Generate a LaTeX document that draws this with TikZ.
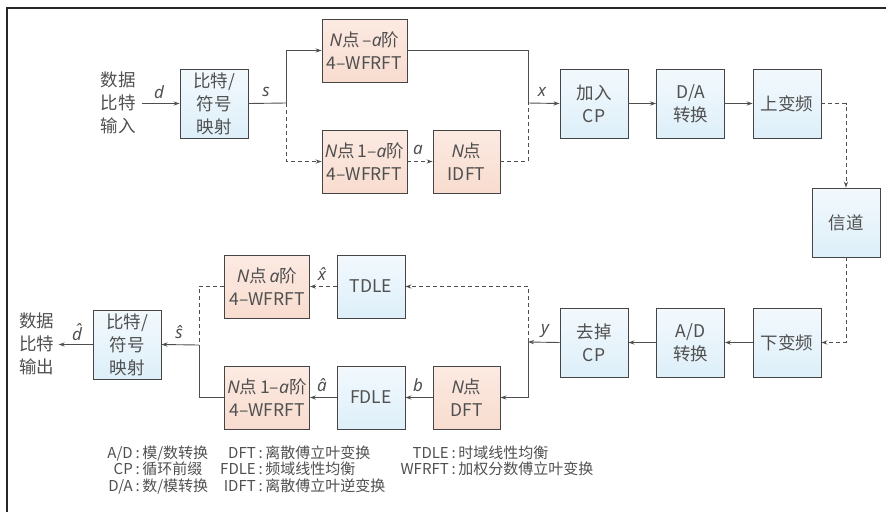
\documentclass[tikz,border=0pt]{standalone}
\usepackage{fontspec}
\setmainfont{Noto Sans CJK SC}
\newfontfamily\itf{Noto Sans}
\usetikzlibrary{arrows.meta}
\newcommand\myit[1]{{\itf\itshape #1}}
\definecolor{txt}{HTML}{505050}
\definecolor{ln}{HTML}{4F4F4F}
\definecolor{bd}{HTML}{454545}
\definecolor{btop}{HTML}{F3F9FD}
\definecolor{bbot}{HTML}{DDEFF9}
\definecolor{ptop}{HTML}{FCEAE2}
\definecolor{pbot}{HTML}{F8DCCF}
\tikzset{
  blk/.style={draw=bd, line width=0.9pt, align=center, inner sep=0pt, text=txt,
    font=\fontsize{17.5}{23}\selectfont},
  bluebox/.style={blk, top color=btop, bottom color=bbot, minimum width=68pt, minimum height=69pt},
  bluesm/.style={blk, top color=btop, bottom color=bbot, minimum width=68pt, minimum height=63pt},
  pinkw/.style={blk, top color=ptop, bottom color=pbot, minimum width=85pt, minimum height=63pt},
  pinksm/.style={blk, top color=ptop, bottom color=pbot, minimum width=67pt, minimum height=63pt},
  io/.style={align=center, inner sep=0pt, text=txt, font=\fontsize{17.5}{23}\selectfont},
  lab/.style={inner sep=0pt, text=txt, font=\fontsize{17}{18}\selectfont},
  leg/.style={inner sep=0pt, text=txt, font=\fontsize{15}{16}\selectfont},
  wire/.style={draw=ln, line width=0.9pt},
  arr/.style={wire, -{Stealth[length=6pt,width=4.2pt]}},
  dsh/.style={dash pattern=on 4pt off 3pt}
}
\begin{document}
\begin{tikzpicture}[x=1pt,y=-1pt]
\useasboundingbox (0,0) rectangle (886,512);
\draw[line width=1.2pt, draw=black!85] (7,512) -- (7,8) -- (886,8);

% transmitter
\node[io] (in) at (118,103) {数据\\比特\\输入};
\node[bluebox] (map1) at (214,103.5) {比特/\\符号\\映射};
\node[pinkw] (w1) at (364.5,50.5) {\myit{N}点\,–\myit{a}阶\\4–WFRFT};
\node[pinkw] (w2) at (364.5,161.5) {\myit{N}点\,1–\myit{a}阶\\4–WFRFT};
\node[pinksm] (idft) at (466.5,161.5) {\myit{N}点\\IDFT};
\node[bluebox] (cp) at (594,103.5) {加入\\CP};
\node[bluebox] (da) at (690.5,103.5) {D/A\\转换};
\node[bluebox] (up) at (787,103.5) {上变频};
\node[bluebox] (ch) at (846,222.5) {信道};

% receiver
\node[bluebox] (down) at (787,342.5) {下变频};
\node[bluebox] (ad) at (690.5,342.5) {A/D\\转换};
\node[bluebox] (rcp) at (594,342.5) {去掉\\CP};
\node[pinksm] (dft) at (466.5,397.5) {\myit{N}点\\DFT};
\node[bluesm] (fdle) at (371,397.5) {FDLE};
\node[bluesm] (tdle) at (371,286.5) {TDLE};
\node[pinkw] (w3) at (267,286.5) {\myit{N}点\,\myit{a}阶\\4–WFRFT};
\node[pinkw] (w4) at (267,397.5) {\myit{N}点\,1–\myit{a}阶\\4–WFRFT};
\node[bluebox] (map2) at (127,344.5) {比特/\\符号\\映射};
\node[io] (out) at (37,344) {数据\\比特\\输出};

\coordinate (s1) at (286,103);
\coordinate (j1) at (528,103);
\coordinate (j2) at (528,342);
\coordinate (j3) at (199,345);

% transmitter wires
\draw[arr, shorten <=6pt] (in.east |- map1.west) -- (map1.west);
\draw[wire] (map1.east) -- (s1);
\draw[arr] (s1) |- (w1.west);
\draw[arr, dsh] (s1) |- (w2.west);
\draw[arr, dsh] (w2.east) -- (idft.west);
\draw[wire] (w1.east) -| (j1);
\draw[wire, dsh] (idft.east) -| (j1);
\draw[arr] (j1) -- (cp.west);
\draw[arr] (cp.east) -- (da.west);
\draw[arr] (da.east) -- (up.west);
\draw[arr, dsh] (up.east) -| (ch.north);
\draw[arr, dsh] (ch.south) |- (down.east);

% receiver wires
\draw[arr] (down.west) -- (ad.east);
\draw[arr] (ad.west) -- (rcp.east);
\draw[arr] (rcp.west) -- (j2);
\draw[arr, dsh] (j2) |- (tdle.east);
\draw[arr] (j2) |- (dft.east);
\draw[arr] (dft.west) -- (fdle.east);
\draw[arr] (fdle.west) -- (w4.east);
\draw[arr, dsh] (tdle.west) -- (w3.east);
\draw[wire, dsh] (w3.west) -| (j3);
\draw[wire] (w4.west) -| (j3);
\draw[arr] (j3) -- (map2.east);
\draw[arr, shorten >=4pt] (map2.west) -- (out.east |- map2.west);

% signal labels
\node[lab] (ld) at (159,92) {\myit{d}};
\node[lab] (ls) at (266,92) {\myit{s}};
\node[lab] (la) at (418,150) {\myit{a}};
\node[lab] (lx) at (542,92) {\myit{x}};
\node[lab] (ly) at (545,331) {\myit{y}};
\node[lab] (lxh) at (322,274) {\myit{\^x}};
\node[lab] (lah) at (322,385) {\myit{\^a}};
\node[lab] (lb) at (418,385) {\myit{b}};
\node[lab] (lsh) at (179,332) {\myit{\^s}};
\node[lab] (ldh) at (77,332) {\myit{\^d}};

% legend
\node[leg, anchor=base east] (k1) at (133,458) {A/D};
\node[leg, anchor=base west] (v1) at (k1.base east) {\,:\,模/数转换};
\node[leg, anchor=base east] (k2) at (133,474.5) {CP};
\node[leg, anchor=base west] (v2) at (k2.base east) {\,:\,循环前缀};
\node[leg, anchor=base east] (k3) at (133,491) {D/A};
\node[leg, anchor=base west] (v3) at (k3.base east) {\,:\,数/模转换};
\node[leg, anchor=base east] (k4) at (256,458) {DFT};
\node[leg, anchor=base west] (v4) at (k4.base east) {\,:\,离散傅立叶变换};
\node[leg, anchor=base east] (k5) at (256,474.5) {FDLE};
\node[leg, anchor=base west] (v5) at (k5.base east) {\,:\,频域线性均衡};
\node[leg, anchor=base east] (k6) at (256,491) {IDFT};
\node[leg, anchor=base west] (v6) at (k6.base east) {\,:\,离散傅立叶逆变换};
\node[leg, anchor=base east] (k7) at (449,458) {TDLE};
\node[leg, anchor=base west] (v7) at (k7.base east) {\,:\,时域线性均衡};
\node[leg, anchor=base east] (k8) at (449,474.5) {WFRFT};
\node[leg, anchor=base west] (v8) at (k8.base east) {\,:\,加权分数傅立叶变换};
\end{tikzpicture}
\end{document}
